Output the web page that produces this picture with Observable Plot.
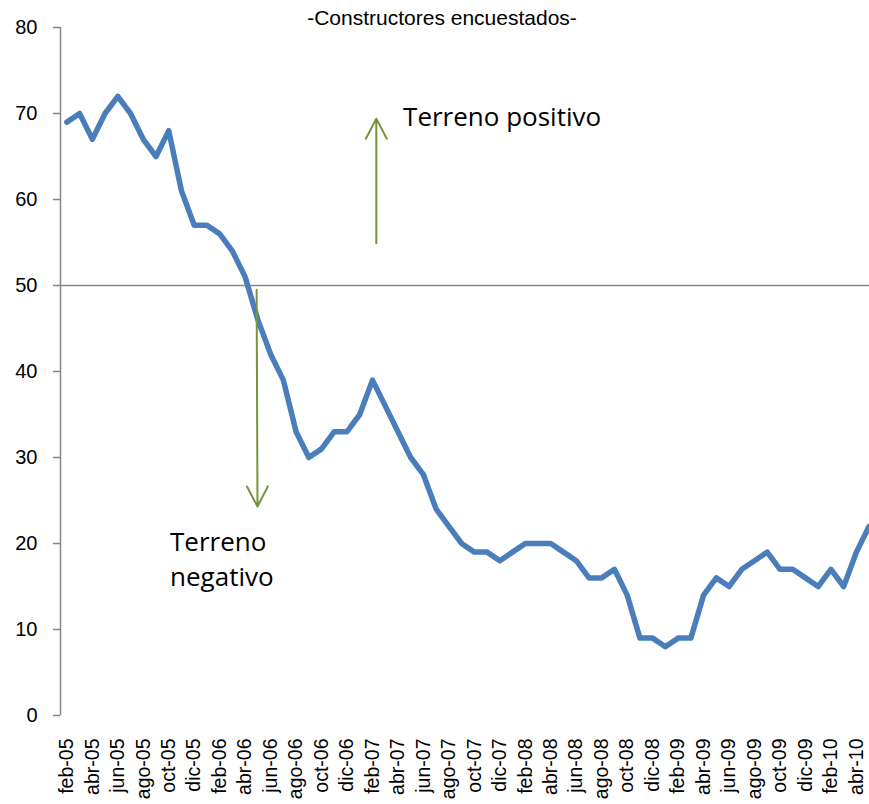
<!DOCTYPE html>
<html>
<head>
<meta charset="utf-8">
<script src="https://cdn.jsdelivr.net/npm/d3@7"></script>
<script src="https://cdn.jsdelivr.net/npm/@observablehq/plot@0.6"></script>
<style>
  html, body { margin: 0; padding: 0; background: #fff; overflow: hidden; }
  #chart svg { display: block; }
</style>
</head>
<body>
<div id="chart"></div>
<script>
const months = [
  "feb-05","mar-05","abr-05","may-05","jun-05","jul-05","ago-05","sep-05","oct-05","nov-05","dic-05",
  "ene-06","feb-06","mar-06","abr-06","may-06","jun-06","jul-06","ago-06","sep-06","oct-06","nov-06","dic-06",
  "ene-07","feb-07","mar-07","abr-07","may-07","jun-07","jul-07","ago-07","sep-07","oct-07","nov-07","dic-07",
  "ene-08","feb-08","mar-08","abr-08","may-08","jun-08","jul-08","ago-08","sep-08","oct-08","nov-08","dic-08",
  "ene-09","feb-09","mar-09","abr-09","may-09","jun-09","jul-09","ago-09","sep-09","oct-09","nov-09","dic-09",
  "ene-10","feb-10","mar-10","abr-10","may-10"
];
const values = [
  69,70,67,70,72,70,67,65,68,61,57,
  57,56,54,51,46,42,39,33,30,31,33,33,
  35,39,36,33,30,28,24,22,20,19,19,18,
  19,20,20,20,19,18,16,16,17,14,9,9,
  8,9,9,14,16,15,17,18,19,17,17,16,
  15,17,15,19,22
];
const tickLabels = ["feb-05","abr-05","jun-05","ago-05","oct-05","dic-05","feb-06","abr-06","jun-06","ago-06","oct-06","dic-06",
  "feb-07","abr-07","jun-07","ago-07","oct-07","dic-07","feb-08","abr-08","jun-08","ago-08","oct-08","dic-08",
  "feb-09","abr-09","jun-09","ago-09","oct-09","dic-09","feb-10","abr-10"];
const yTicks = [0,10,20,30,40,50,60,70,80];
const threshold = 50;
const subtitle = "-Constructores encuestados-";

// annotations (data space: x = month index, y = value)
const arrows = [
  {x1: 24.3, y1: 54.9, x2: 24.3, y2: 69.4},
  {x1: 14.9, y1: 49.5, x2: 14.97, y2: 24.3}
];
const notes = [
  {x: 26.4, y: 69.8, text: "Terreno positivo"},
  {x: 8.1, y: 18.4, text: "Terreno\nnegativo"}
];

const data = values.map((v, i) => ({i, v, m: months[i]}));
const tickIdx = tickLabels.map(l => months.indexOf(l));

const FONT = "Liberation Sans, Arial, sans-serif";
const chart = Plot.plot({
  width: 869,
  height: 804,
  marginTop: 27,
  marginBottom: 89,
  marginLeft: 60,
  marginRight: -6,
  style: {fontFamily: FONT, background: "#fff", color: "#000"},
  x: {domain: [-0.5, months.length - 0.5], range: [60, 875], axis: null},
  y: {domain: [0, 80], range: [715, 27], axis: null},
  marks: [
    Plot.ruleY([threshold], {x1: -0.5, x2: months.length - 0.5, stroke: "#868686", strokeWidth: 1.5}),
    Plot.ruleX([-0.5], {y1: 0, y2: 80, stroke: "#868686", strokeWidth: 1.5}),
    Plot.ruleY(yTicks, {y: d => d, x1: -0.5, x2: -1.05, stroke: "#868686", strokeWidth: 1.5}),
    Plot.text(yTicks, {y: d => d, x: -0.5, dx: -23, text: d => String(d), textAnchor: "end", fontSize: 20, fill: "#000"}),
    Plot.text(tickIdx, {x: d => d, y: 0, text: d => months[d], rotate: -90, textAnchor: "end", dy: 23, fontSize: 19.5, fill: "#000"}),
    Plot.line(data, {x: "i", y: "v", stroke: "#4A7EBB", strokeWidth: 5.5, strokeLinejoin: "round", strokeLinecap: "round"}),
    Plot.arrow(arrows, {x1: "x1", y1: "y1", x2: "x2", y2: "y2", stroke: "#77933C", strokeWidth: 2, headLength: 17, headAngle: 55}),
    Plot.text(notes, {x: "x", y: "y", text: "text", textAnchor: "start", lineAnchor: "middle", lineHeight: 1.35, fontSize: 26, fontFamily: "Open Sans", fill: "#000"}),
    Plot.text([subtitle], {frameAnchor: "top", dx: -26, dy: -17, fontSize: 21, fill: "#000"})
  ]
});
document.getElementById("chart").appendChild(chart);
</script>
</body>
</html>
